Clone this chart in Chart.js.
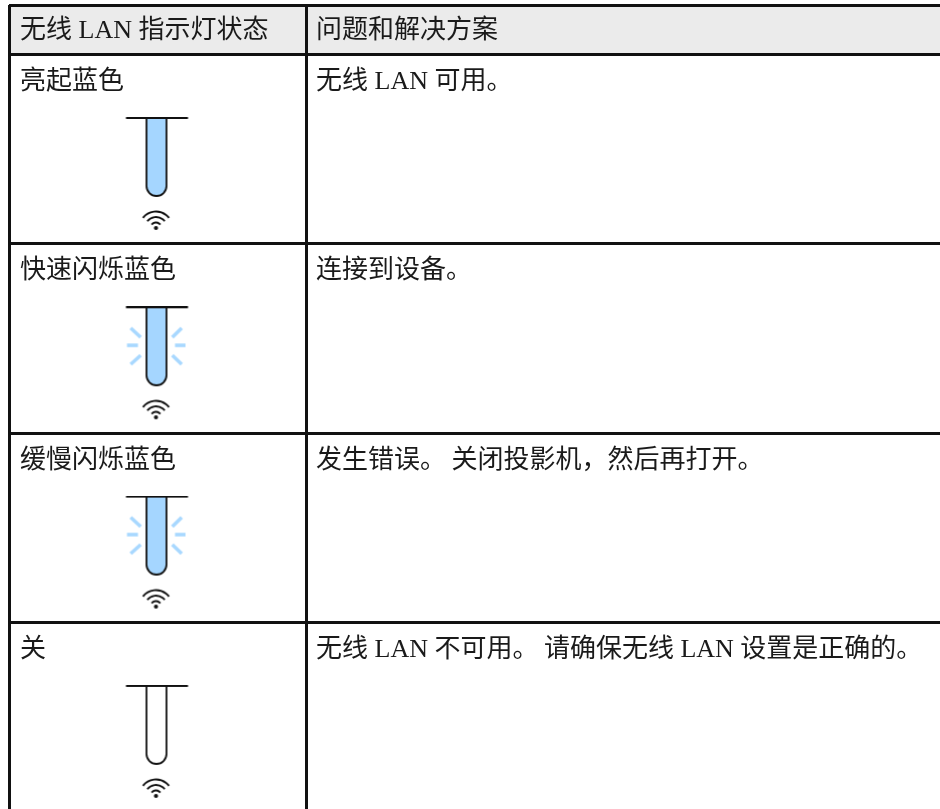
<!DOCTYPE html>
<html>
<head>
<meta charset="utf-8">
<title>无线 LAN 指示灯状态</title>
<script src="https://cdn.jsdelivr.net/npm/chart.js@4"></script>
<style>
    html, body { margin: 0; padding: 0; background: #fff; overflow: hidden; }
    canvas { display: block; }
</style>
</head>
<body>
<canvas id="myChart" width="940" height="809"></canvas>
<script>
// table content
const headers = ['无线 LAN 指示灯状态', '问题和解决方案'];
const states = ['亮起蓝色', '快速闪烁蓝色', '缓慢闪烁蓝色', '关'];
const solutions = [
    '无线 LAN 可用。',
    '连接到设备。',
    '发生错误。关闭投影机，然后再打开。',
    '无线 LAN 不可用。请确保无线 LAN 设置是正确的。'
];
const lampLit = [true, true, true, false];
const lampBlinking = [false, true, true, false];

// layout of the table, in page pixels
const colEdges = [9, 306];
const tableTop = 5;
const headerEdge = 54.5;
const rowHeight = 189.3;
const iconCenterX = 156.5;
const iconOffsetY = 122.5;
const textInset = [11, 10];
const stopGap = 5.5;
const font = '26px "Liberation Serif", "Noto Sans CJK SC", sans-serif';
const lineColor = '#111111';

const rowEdges = [tableTop, headerEdge];
states.forEach((s, i) => rowEdges.push(headerEdge + rowHeight * (i + 1)));

// one lamp + wifi glyph, used as the point style
function makeLampIcon(lit, blinking) {
    const c = document.createElement('canvas');
    c.width = 70;
    c.height = 120;
    const g = c.getContext('2d');
    g.lineCap = 'butt';

    if (blinking) {
        g.strokeStyle = '#a8d8ff';
        g.lineWidth = 3.6;
        const rays = [
            [[5.5, 39], [16.5, 39]], [[53.5, 39], [64, 39]],
            [[9.2, 21.7], [19.2, 31]], [[60.2, 21.7], [50.8, 31]],
            [[9.2, 58], [19.2, 49]], [[60.2, 58], [50.8, 49]]
        ];
        rays.forEach(r => {
            g.beginPath();
            g.moveTo(r[0][0], r[0][1]);
            g.lineTo(r[1][0], r[1][1]);
            g.stroke();
        });
    }

    // tube
    g.beginPath();
    g.moveTo(25, 1);
    g.lineTo(25, 69);
    g.arc(35, 69, 10, Math.PI, 0, true);
    g.lineTo(45, 1);
    if (lit) {
        g.fillStyle = '#a5d6ff';
        g.fill();
    }
    g.strokeStyle = lineColor;
    g.lineWidth = 1.8;
    g.stroke();

    // top bar
    g.beginPath();
    g.moveTo(4.5, 1);
    g.lineTo(66.5, 1);
    g.lineWidth = 2;
    g.stroke();

    // wifi arcs
    g.lineWidth = 1.9;
    [16.5, 11, 5.5].forEach(r => {
        g.beginPath();
        g.arc(34.5, 111, r, Math.PI * 1.21, Math.PI * 1.79);
        g.stroke();
    });
    g.beginPath();
    g.arc(34.5, 111, 2.1, 0, Math.PI * 2);
    g.fillStyle = lineColor;
    g.fill();
    return c;
}

// the full stop inside a sentence sits a little wider in the reference
function drawSentence(c, text, px, py) {
    const stop = text.indexOf('。');
    if (stop < 0 || stop === text.length - 1) {
        c.fillText(text, px, py);
        return;
    }
    const first = text.slice(0, stop + 1);
    c.fillText(first, px, py);
    c.fillText(text.slice(stop + 1), px + c.measureText(first).width + stopGap, py);
}

const tablePlugin = {
    id: 'tablePlugin',
    beforeDraw(chart) {
        const { ctx, scales: { x, y } } = chart;
        ctx.save();
        ctx.fillStyle = '#ffffff';
        ctx.fillRect(0, 0, chart.width, chart.height);
        ctx.fillStyle = '#ebebeb';
        ctx.fillRect(x.getPixelForValue(colEdges[0]), y.getPixelForValue(tableTop),
            x.getPixelForValue(x.max) - x.getPixelForValue(colEdges[0]),
            y.getPixelForValue(headerEdge) - y.getPixelForValue(tableTop));
        ctx.restore();
    },
    afterDraw(chart) {
        const { ctx, scales: { x, y } } = chart;
        ctx.save();
        ctx.font = font;
        ctx.fillStyle = '#1a1a1a';
        ctx.textBaseline = 'alphabetic';
        headers.forEach((h, i) => {
            ctx.fillText(h, x.getPixelForValue(colEdges[i] + textInset[i]), y.getPixelForValue(38));
        });
        states.forEach((s, i) => {
            const baseline = headerEdge + rowHeight * i + 34.5;
            ctx.fillText(s, x.getPixelForValue(colEdges[0] + textInset[0]), y.getPixelForValue(baseline));
            drawSentence(ctx, solutions[i], x.getPixelForValue(colEdges[1] + textInset[1]), y.getPixelForValue(baseline));
        });
        ctx.restore();
    }
};

const ctx = document.getElementById('myChart').getContext('2d');
const myChart = new Chart(ctx, {
    type: 'scatter',
    data: {
        datasets: [{
            label: '无线 LAN 指示灯',
            data: states.map((s, i) => ({
                x: iconCenterX,
                y: headerEdge + rowHeight * i + iconOffsetY
            })),
            pointStyle: states.map((s, i) => makeLampIcon(lampLit[i], lampBlinking[i])),
            pointRadius: 35,
            clip: false
        }]
    },
    options: {
        responsive: false,
        animation: false,
        layout: { autoPadding: false, padding: { left: colEdges[0], top: tableTop } },
        plugins: { legend: { display: false }, tooltip: { enabled: false } },
        scales: {
            x: {
                type: 'linear',
                min: colEdges[0],
                max: 940,
                afterBuildTicks(axis) { axis.ticks = colEdges.map(v => ({ value: v })); },
                ticks: { display: false },
                grid: { color: lineColor, lineWidth: 3, drawTicks: false },
                border: { display: false }
            },
            y: {
                type: 'linear',
                reverse: true,
                min: tableTop,
                max: 809,
                afterBuildTicks(axis) { axis.ticks = rowEdges.map(v => ({ value: v })); },
                ticks: { display: false },
                grid: { color: lineColor, lineWidth: 3, drawTicks: false },
                border: { display: false }
            }
        }
    },
    plugins: [tablePlugin]
});
</script>
</body>
</html>
